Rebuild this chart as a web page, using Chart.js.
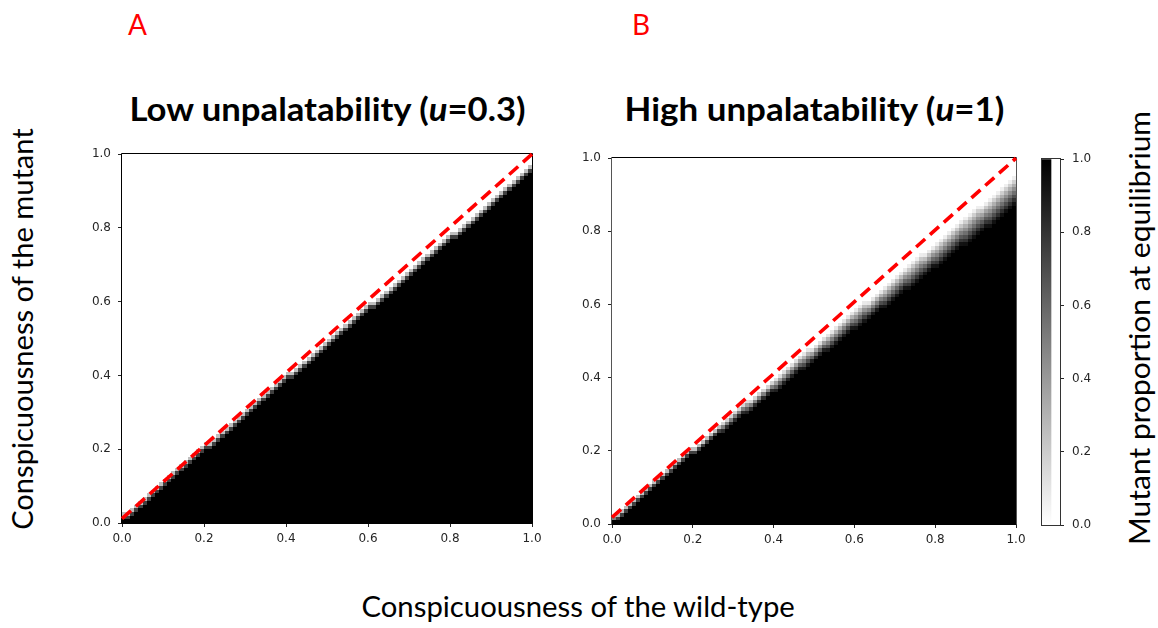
<!DOCTYPE html>
<html><head><meta charset="utf-8">
<script src="https://cdn.jsdelivr.net/npm/chart.js@4/dist/chart.umd.min.js"></script>
<style>
html,body{margin:0;padding:0;background:#fff}
body{width:1158px;height:628px;position:relative;overflow:hidden;font-family:Lato,"Noto Sans",sans-serif;color:#000}
.t{position:absolute;white-space:nowrap;line-height:1}
canvas{position:absolute}
</style></head><body>

<div class="t" id="lblA" style="left:128px;top:10px;color:#f00;font-size:28px">A</div>
<div class="t" id="lblB" style="left:632px;top:10px;color:#f00;font-size:28px">B</div>
<div class="t fit" id="titleL" data-cx="327" data-base="121" data-w="396" data-size="33" style="font-weight:bold">Low unpalatability (<i>u</i>=0.3)</div>
<div class="t fit" id="titleR" data-cx="814" data-base="121" data-w="380" data-size="33" style="font-weight:bold">High unpalatability (<i>u</i>=1)</div>
<div class="t fit" id="xTitle" data-cx="578" data-base="617" data-w="433" data-size="28">Conspicuousness of the wild-type</div>
<div class="t rot" id="yTitle" data-cx="22" data-cy="329" data-w="402" data-size="28">Conspicuousness of the mutant</div>
<div class="t rot" id="cbTitle" data-cx="1138" data-cy="328" data-w="434" data-size="28">Mutant proportion at equilibrium</div>

<canvas id="cL" width="490" height="420" style="left:60px;top:140px"></canvas>
<canvas id="cR" width="484" height="420" style="left:550px;top:144px"></canvas>
<canvas id="cB" width="110" height="420" style="left:1000px;top:144px"></canvas>

<script>
// ---------------- data ----------------
const gridCells = 100;                        // cells per axis in each heatmap
const axisTicks = [0.0, 0.2, 0.4, 0.6, 0.8, 1.0];
const colorbarTicks = [0.0, 0.2, 0.4, 0.6, 0.8, 1.0];

// Panel A (u = 0.3): per wild-type column, number of fully black cells (mutant proportion 1)
const lowBlackRows = [1,1,2,3,4,5,6,7,8,9,10,11,12,13,14,15,16,17,18,19,
  20,20,21,22,23,24,25,26,27,28,29,30,31,32,33,34,35,36,37,38,
  39,39,40,41,42,43,44,45,46,47,48,49,50,51,52,53,54,55,56,57,
  58,58,59,60,61,62,63,64,65,66,67,68,69,70,71,72,73,74,75,76,
  77,77,78,79,80,81,82,83,84,85,86,87,88,89,90,91,92,93,94,95];
// row index from which the column is white (mutant proportion 0)
const lowWhiteRows = [3,3,4,5,6,7,8,9,10,11,12,13,14,15,16,17,18,19,20,21,
  22,22,23,24,25,26,27,28,29,30,31,32,33,34,35,36,37,38,39,40,
  41,41,42,43,44,45,46,47,48,49,50,51,52,53,54,55,56,57,58,59,
  60,60,61,62,63,64,65,66,67,68,69,70,71,72,73,74,75,76,77,78,
  79,79,80,81,82,83,84,85,86,87,88,89,90,91,92,93,94,95,96,97];

// Panel B (u = 1)
const highBlackRows = [1,1,2,3,4,5,6,7,8,9,10,11,12,13,14,15,16,17,18,19,
  19,20,21,22,23,24,25,25,26,27,28,29,30,30,31,32,33,34,35,36,
  36,37,38,39,40,41,42,42,43,44,45,46,47,47,48,49,50,51,52,53,
  53,54,55,56,57,58,59,59,60,61,62,63,64,64,65,66,67,68,69,70,
  70,71,72,73,74,75,76,76,77,78,79,80,81,81,82,83,84,85,86,87];
const highWhiteRows = [2,3,4,5,6,7,8,9,10,11,12,13,14,15,16,17,18,19,20,21,
  21,22,23,24,25,26,27,28,29,30,31,32,33,34,34,35,36,37,38,39,
  40,41,42,43,44,45,46,47,48,48,49,50,51,52,53,54,55,56,57,58,
  59,60,61,61,62,63,64,65,66,67,68,69,70,71,72,73,74,74,75,76,
  77,78,79,80,81,82,83,84,85,86,87,87,88,89,90,91,92,93,94,95];

// red dashed reference line (mutant = wild-type)
const lowDiagX = [0, 1];
const lowDiagY = [0.012, 1.0];
const highDiagX = [0, 1];
const highDiagY = [0.018, 1.0];

// ---------------- helpers ----------------
function fmt(v){ return Number(v).toFixed(1); }

function axis(ticksArr, size, isY, pad){
  return {
    type:'linear', min:0, max:1,
    afterBuildTicks: s => { s.ticks = ticksArr.map(v => ({value:v})); },
    ticks:{ callback: v => fmt(v), font:{family:'DejaVu Sans', size:12}, color:'#262626',
            padding: pad, autoSkip:false, maxRotation:0, minRotation:0 },
    grid:{ drawOnChartArea:false, drawTicks:true, tickLength:4, color:'#262626', lineWidth:1 },
    border:{ display:false },
    afterFit: s => { if (isY) s.width = size; else s.height = size; }
  };
}

function heatPlugin(blackRows, whiteRows, vColor){
  return {
    id:'heat',
    beforeDatasetsDraw(chart){
      const {ctx, scales:{x, y}, chartArea:a} = chart;
      const n = gridCells;
      ctx.save();
      ctx.fillStyle = '#fff';
      ctx.fillRect(a.left, a.top, a.right - a.left, a.bottom - a.top);
      for (let i = 0; i < n; i++){
        const x0 = Math.round(x.getPixelForValue(i / n));
        const x1 = Math.round(x.getPixelForValue((i + 1) / n));
        const yBase = Math.round(y.getPixelForValue(0));
        const yTop = Math.round(y.getPixelForValue(blackRows[i] / n));
        ctx.fillStyle = '#000';
        ctx.fillRect(x0, yTop, x1 - x0, yBase - yTop);
        const span = whiteRows[i] - blackRows[i];
        for (let j = blackRows[i]; j < whiteRows[i]; j++){
          const v = 1 - (j - blackRows[i] + 0.5) / span;   // mutant proportion in the cell
          const g = Math.round(255 * (1 - v));
          ctx.fillStyle = `rgb(${g},${g},${g})`;
          const ya = Math.round(y.getPixelForValue((j + 1) / n));
          const yb = Math.round(y.getPixelForValue(j / n));
          ctx.fillRect(x0, ya, x1 - x0, yb - ya);
        }
      }
      // frame
      ctx.lineWidth = 1;
      ctx.strokeStyle = '#000';
      ctx.beginPath();
      ctx.moveTo(Math.round(a.left) - 0.5, Math.round(a.top) - 0.5);
      ctx.lineTo(Math.round(a.right) + 0.5, Math.round(a.top) - 0.5);
      ctx.moveTo(Math.round(a.left) - 0.5, Math.round(a.bottom) + 0.5);
      ctx.lineTo(Math.round(a.right) + 0.5, Math.round(a.bottom) + 0.5);
      ctx.stroke();
      ctx.strokeStyle = vColor;
      ctx.beginPath();
      ctx.moveTo(Math.round(a.left) - 0.5, Math.round(a.top) - 0.5);
      ctx.lineTo(Math.round(a.left) - 0.5, Math.round(a.bottom) + 0.5);
      ctx.moveTo(Math.round(a.right) + 0.5, Math.round(a.top) - 0.5);
      ctx.lineTo(Math.round(a.right) + 0.5, Math.round(a.bottom) + 0.5);
      ctx.stroke();
      ctx.restore();
    }
  };
}

function panel(canvasId, blackRows, whiteRows, diagX, diagY, yW, xH, vColor){
  return new Chart(document.getElementById(canvasId), {
    type:'line',
    data:{ datasets:[{
      data: diagX.map((vx, k) => ({x:vx, y:diagY[k]})),
      borderColor:'#ff0000', borderWidth:3.6, borderDash:[12, 6.5], borderCapStyle:'butt',
      pointRadius:0, fill:false, tension:0, clip:4
    }]},
    options:{
      responsive:false, animation:false, maintainAspectRatio:false,
      layout:{ padding:{ top:13, right:18, left:0, bottom:0 } },
      plugins:{ legend:{display:false}, tooltip:{enabled:false}, title:{display:false} },
      scales:{
        x: axis(axisTicks, xH, false, 5),
        y: axis(axisTicks, yW, true, 7)
      }
    },
    plugins:[heatPlugin(blackRows, whiteRows, vColor)]
  });
}

panel('cL', lowBlackRows, lowWhiteRows, lowDiagX, lowDiagY, 62, 37, '#000');
panel('cR', highBlackRows, highWhiteRows, highDiagX, highDiagY, 62, 40, '#555');

// colorbar
new Chart(document.getElementById('cB'), {
  type:'bar',
  data:{ labels:['cb'], datasets:[{
    data:[[colorbarTicks[0], colorbarTicks[colorbarTicks.length - 1]]],
    barPercentage:1, categoryPercentage:1, borderWidth:0,
    backgroundColor: c => {
      const a = c.chart.chartArea;
      if (!a) return '#888';
      const g = c.chart.ctx.createLinearGradient(0, a.bottom, 0, a.top);
      g.addColorStop(0, '#ffffff'); g.addColorStop(1, '#000000');
      return g;
    }
  }]},
  options:{
    responsive:false, animation:false, maintainAspectRatio:false,
    layout:{ padding:{ top:13, right:0, left:42, bottom:39 } },
    plugins:{ legend:{display:false}, tooltip:{enabled:false} },
    scales:{
      x:{ display:false, offset:false },
      y: Object.assign(axis(colorbarTicks, 50, true, 8), { position:'right' })
    }
  },
  plugins:[{
    id:'cbframe',
    afterDatasetsDraw(chart){
      const a = chart.chartArea, c = chart.ctx;
      c.save(); c.strokeStyle = '#333'; c.lineWidth = 1;
      c.strokeRect(Math.round(a.left) - 0.5, Math.round(a.top) - 0.5,
                   Math.round(a.right - a.left) + 1, Math.round(a.bottom - a.top) + 1);
      c.restore();
    }
  }]
});

// text fitting (layout only)
document.querySelectorAll('.fit').forEach(el => {
  const size = +el.dataset.size;
  el.style.fontSize = size + 'px';
  const w = el.offsetWidth;
  const k = (+el.dataset.w) / w;
  const cx = +el.dataset.cx, base = +el.dataset.base;
  el.style.left = (cx - w / 2) + 'px';
  el.style.top = (base - 0.887 * size) + 'px';
  el.style.transformOrigin = '50% 50%';
  el.style.transform = `scaleX(${k})`;
});
document.querySelectorAll('.rot').forEach(el => {
  const size = +el.dataset.size;
  el.style.fontSize = size + 'px';
  const w = el.offsetWidth, h = el.offsetHeight;
  const k = (+el.dataset.w) / w;
  const cx = +el.dataset.cx, cy = +el.dataset.cy;
  el.style.left = (cx - w / 2) + 'px';
  el.style.top = (cy - h / 2) + 'px';
  el.style.transformOrigin = '50% 50%';
  el.style.transform = `rotate(-90deg) scaleX(${k})`;
});
</script>
</body></html>
